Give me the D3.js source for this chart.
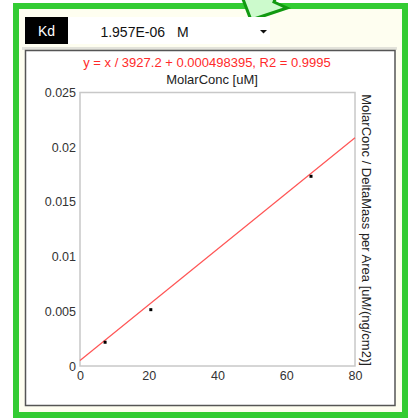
<!DOCTYPE html>
<html>
<head>
<meta charset="utf-8">
<script src="https://cdn.jsdelivr.net/npm/d3@7"></script>
<style>
body { margin: 0; background: #fff; }
svg { display: block; font-family: "Liberation Sans", Arial, sans-serif; }
</style>
</head>
<body>
<script>
var w = 416;
var h = 418;

// measured points: MolarConc [uM] vs MolarConc / DeltaMass per Area
var conc = [7.3, 20.6, 67.2];
var ratio = [0.00217, 0.00515, 0.01734];

// linear fit shown in the title
var fitDivisor = 3927.2;
var fitIntercept = 0.000498395;
var fitR2 = 0.9995;

var xTicks = [0, 20, 40, 60, 80];
var yTicks = [0, 0.005, 0.01, 0.015, 0.02, 0.025];
var yTickLabels = ['0', '0.005', '0.01', '0.015', '0.02', '0.025'];

var kdValue = '1.957E-06';
var kdUnit = 'M';

var svg = d3.select('body')
	.append('svg')
	.attr('width', w)
	.attr('height', h);

// outer frame
svg.append('rect')
	.attr('x', 16).attr('y', 6)
	.attr('width', 389).attr('height', 409)
	.attr('fill', '#fefef0')
	.attr('stroke', '#33cc33')
	.attr('stroke-width', 6);

// green arrow at the top, over the frame
svg.append('polygon')
	.attr('points', '241,-6 251,20 287,8 274,2 277,-6')
	.attr('fill', '#ccfacc')
	.attr('stroke', '#119911')
	.attr('stroke-width', 3);

// Kd header
svg.append('rect')
	.attr('x', 25).attr('y', 17).attr('width', 43).attr('height', 27)
	.attr('fill', '#000');
svg.append('text')
	.attr('x', 46.5).attr('y', 36)
	.attr('text-anchor', 'middle')
	.attr('fill', '#fff')
	.style('font-size', '14px')
	.text('Kd');
svg.append('rect')
	.attr('x', 68).attr('y', 17).attr('width', 202).attr('height', 27)
	.attr('fill', '#fff');
svg.append('text')
	.attr('x', 165).attr('y', 37)
	.attr('text-anchor', 'end')
	.attr('fill', '#111')
	.style('font-size', '14px')
	.text(kdValue);
svg.append('text')
	.attr('x', 177).attr('y', 37)
	.attr('fill', '#111')
	.style('font-size', '14px')
	.text(kdUnit);
svg.append('path')
	.attr('d', 'M260,30 h7 l-3.5,3.5 z')
	.attr('fill', '#111');

// chart panel
svg.append('rect')
	.attr('x', 22).attr('y', 47).attr('width', 375).attr('height', 3)
	.attr('fill', '#e2e2da');
svg.append('rect')
	.attr('x', 25.5).attr('y', 50.5).attr('width', 369.5).attr('height', 355)
	.attr('fill', '#fff')
	.attr('stroke', '#555')
	.attr('stroke-width', 1.5);

var plot = { left: 80, right: 355, top: 92.5, bottom: 366 };

var x = d3.scaleLinear().domain([0, 80]).range([plot.left, plot.right]);
var y = d3.scaleLinear().domain([0, 0.025]).range([plot.bottom, plot.top]);

svg.append('rect')
	.attr('x', plot.left).attr('y', plot.top)
	.attr('width', plot.right - plot.left).attr('height', plot.bottom - plot.top)
	.attr('fill', '#fff')
	.attr('stroke', '#c8c8c8')
	.attr('stroke-width', 1.5);

var xAxis = svg.append('g')
	.attr('transform', 'translate(0,' + plot.bottom + ')')
	.call(d3.axisBottom(x).tickValues(xTicks).tickSize(0).tickPadding(5));
var yAxis = svg.append('g')
	.attr('transform', 'translate(' + plot.left + ',0)')
	.call(d3.axisLeft(y).tickValues(yTicks).tickSize(0).tickPadding(4)
		.tickFormat(function(d, i) { return yTickLabels[i]; }));
[xAxis, yAxis].forEach(function(g) {
	g.select('.domain').remove();
	g.selectAll('text')
		.attr('fill', '#333')
		.style('font-size', '12.5px')
		.style('font-family', '"Liberation Sans", Arial, sans-serif');
});

// fit line
var fit = function(v) { return v / fitDivisor + fitIntercept; };
svg.append('line')
	.attr('x1', x(0)).attr('y1', y(fit(0)))
	.attr('x2', x(80)).attr('y2', y(fit(80)))
	.attr('stroke', '#ff5555')
	.attr('stroke-width', 1.2);

// points
svg.selectAll('rect.pt')
	.data(conc)
	.enter()
	.append('rect')
	.attr('class', 'pt')
	.attr('x', function(d) { return x(d) - 1.5; })
	.attr('y', function(d, i) { return y(ratio[i]) - 1.5; })
	.attr('width', 3)
	.attr('height', 3)
	.attr('fill', '#000');

// titles
svg.append('text')
	.attr('x', 207).attr('y', 67)
	.attr('text-anchor', 'middle')
	.attr('fill', '#ff2a2a')
	.style('font-size', '13px')
	.text('y = x / ' + fitDivisor + ' + ' + fitIntercept + ', R2 = ' + fitR2);
svg.append('text')
	.attr('x', 212).attr('y', 84)
	.attr('text-anchor', 'middle')
	.attr('fill', '#222')
	.style('font-size', '13px')
	.text('MolarConc [uM]');
svg.append('text')
	.attr('transform', 'translate(362,230) rotate(90)')
	.attr('text-anchor', 'middle')
	.attr('fill', '#222')
	.style('font-size', '13px')
	.text('MolarConc / DeltaMass per Area [uM/(ng/cm2)]');
</script>
</body>
</html>
